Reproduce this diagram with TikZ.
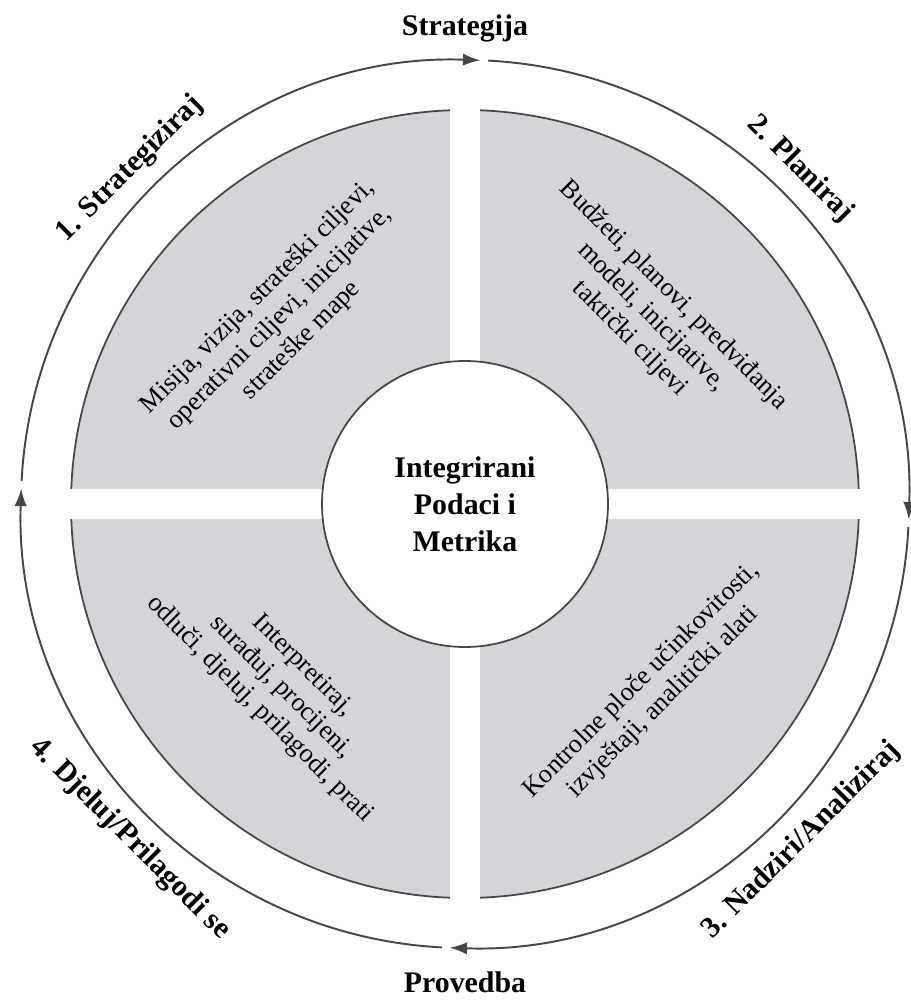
\documentclass[tikz,border=0pt]{standalone}
\usepackage{fontspec}
\setmainfont{Liberation Serif}
\usetikzlibrary{arrows.meta}
\definecolor{ringgray}{RGB}{70,70,70}
\definecolor{fillgray}{RGB}{211,213,216}
\tikzstyle{Arrow} = [
line width=1.1pt, draw=ringgray,
-{Latex[length=10pt, width=7pt]}]
\tikzstyle{Stage} = [font=\bfseries\fontsize{17}{20}\selectfont, inner sep=0pt]
\tikzstyle{Task} = [font=\fontsize{15}{17.5}\selectfont, align=center, inner sep=0pt]

\begin{document}
\begin{tikzpicture}
    \useasboundingbox (-9.30,-9.92) rectangle (8.92,10.08);
    \fill[fillgray] (0,0) circle (7.88);
    \draw[line width=1pt, ringgray] (0,0) circle (7.88);
    \fill[white] (-0.3,-8.1) rectangle (0.3,8.1);
    \fill[white] (-8.1,-0.3) rectangle (8.1,0.3);
    \node[circle, draw=ringgray, line width=1pt, fill=white, minimum size=5.72cm,
        align=center, font=\bfseries\fontsize{17}{21}\selectfont] (0) at (0,0)
        {Integrirani\\Podaci i\\Metrika};
    \draw[Arrow] (177:8.88) arc[start angle=177, end angle=88, radius=8.88];
    \draw[Arrow] (87:8.88) arc[start angle=87, end angle=-2, radius=8.88];
    \draw[Arrow] (-3:8.88) arc[start angle=-3, end angle=-92, radius=8.88];
    \draw[Arrow] (-93:8.88) arc[start angle=-93, end angle=-182, radius=8.88];
    \node[Stage] (5) at (90:9.52) {Strategija};
    \node[Stage] (6) at (-90:9.56) {Provedba};
    \node[Stage, rotate=45] (1) at (135:9.48) {1. Strategiziraj};
    \node[Stage, rotate=-45] (2) at (45:9.48) {2. Planiraj};
    \node[Stage, rotate=45] (3) at (-45:9.52) {3. Nadziri/Analiziraj};
    \node[Stage, rotate=-45] (4) at (-135:9.48) {4. Djeluj/Prilagodi se};
    \node[Task, rotate=45] (11) at (135:5.24)
        {Misija, vizija, strateški ciljevi,\\operativni ciljevi, inicijative,\\strateške mape};
    \node[Task, rotate=-45] (12) at (45:5.28)
        {Budžeti, planovi, predviđanja\\modeli, inicijative,\\taktički ciljevi};
    \node[Task, rotate=45] (13) at (-45:5.3)
        {Kontrolne ploče učinkovitosti,\\izvještaji, analitički alati};
    \node[Task, rotate=-45] (14) at (-135:5.2)
        {Interpretiraj,\\surađuj, procijeni,\\odluči, djeluj, prilagodi, prati};
\end{tikzpicture}
\end{document}
